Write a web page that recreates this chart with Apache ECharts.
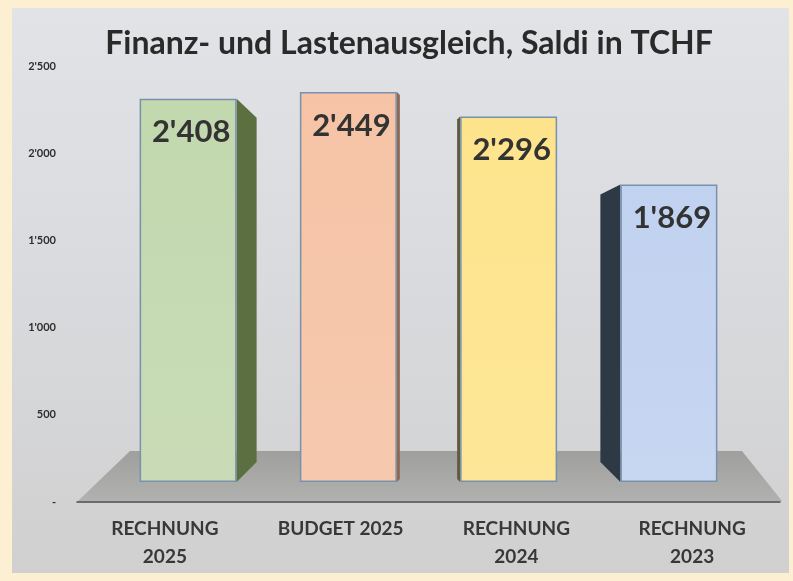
<!DOCTYPE html>
<html>
<head>
<meta charset="utf-8">
<script src="https://cdn.jsdelivr.net/npm/echarts@6/dist/echarts.min.js"></script>
<style>
  html, body { margin: 0; padding: 0; background: #fcefd2; }
  #main { width: 793px; height: 581px; }
</style>
</head>
<body>
<div id="main"></div>
<script>
// Werte aus der Grafik
var categories = ['RECHNUNG 2025', 'BUDGET 2025', 'RECHNUNG 2024', 'RECHNUNG 2023'];
var values = [2408, 2449, 2296, 1869];
var yTicks = [0, 500, 1000, 1500, 2000, 2500];

// Aussehen (keine Daten)
var frontColors = ['#c2d8ae', '#f6c3a6', '#fde48c', '#c1d2f0'];
var sideColors = ['#5b6f40', '#8e6a55', '#5f5a40', '#2d3945'];
var sideDepth = [20, 3, -3, -20];   // seitliche Tiefe der 3D-Flaeche
var sideTopDrop = [19, 3, 3, 10];
var sideBottomRise = [20, 3, 3, 20];
var barW = 97;

function fmt(v) {
    var s = String(v);
    return s.length > 3 ? s.slice(0, s.length - 3) + "'" + s.slice(-3) : s;
}

var myChart = echarts.init(document.getElementById('main'));

var option = {
    backgroundColor: '#fcefd2',
    animation: false,
    title: {
        text: 'Finanz- und Lastenausgleich, Saldi in TCHF',
        left: 404,
        textAlign: 'center',
        top: 23,
        textStyle: { fontFamily: 'Lato', fontWeight: 'bold', fontSize: 32, color: '#2a2a2a' }
    },
    graphic: [
        {
            type: 'rect', z: -10,
            shape: { x: 12, y: 8, width: 777, height: 565 },
            style: {
                fill: new echarts.graphic.LinearGradient(0, 0, 0, 1, [
                    { offset: 0, color: '#e2e3e6' },
                    { offset: 0.5, color: '#d9dadd' },
                    { offset: 1, color: '#d0d0d0' }
                ])
            }
        },
        {
            // Boden
            type: 'polygon', z: -5,
            shape: { points: [[130, 451], [742, 451], [782, 501], [78, 501]] },
            style: {
                fill: new echarts.graphic.LinearGradient(0, 0, 0, 1, [
                    { offset: 0, color: '#9f9f9d' },
                    { offset: 1, color: '#b1b1af' }
                ])
            }
        }
    ],
    grid: [
        { left: 77, right: 13, top: 66, bottom: 79 },
        { left: 108, right: 44, top: 84, bottom: 99 }
    ],
    xAxis: [
        {
            type: 'category', gridIndex: 0, data: categories,
            axisLine: { lineStyle: { color: '#4a4a4a', width: 1.5 } },
            axisTick: { show: false },
            axisLabel: {
                margin: 13, lineHeight: 28,
                fontFamily: 'Lato', fontWeight: 'bold', fontSize: 19, color: '#383838',
                formatter: function (v) { return v.replace('RECHNUNG ', 'RECHNUNG\n'); }
            }
        },
        { type: 'category', gridIndex: 1, data: categories, show: false }
    ],
    yAxis: [
        {
            type: 'value', gridIndex: 0, min: yTicks[0], max: yTicks[yTicks.length - 1], interval: 500,
            axisLine: { show: false }, axisTick: { show: false }, splitLine: { show: false },
            axisLabel: {
                margin: 21, fontFamily: 'Lato', fontWeight: 'bold', fontSize: 11, color: '#2e2e2e',
                formatter: function (v) { return v === 0 ? '-' : fmt(v); }
            }
        },
        { type: 'value', gridIndex: 1, min: 0, max: 2500, show: false }
    ],
    series: [
        {
            type: 'custom', xAxisIndex: 1, yAxisIndex: 1, z: 1,
            data: values.map(function (v, i) { return [i, v]; }),
            renderItem: function (params, api) {
                var i = api.value(0);
                var top = api.coord([i, api.value(1)]);
                var base = api.coord([i, 0]);
                var d = sideDepth[i];
                var fx = top[0] + (d > 0 ? barW / 2 : -barW / 2);
                return {
                    type: 'polygon',
                    shape: { points: [
                        [fx, top[1]], [fx + d, top[1] + sideTopDrop[i]],
                        [fx + d, base[1] - sideBottomRise[i]], [fx, base[1]]
                    ] },
                    style: { fill: sideColors[i] }
                };
            }
        },
        {
            type: 'bar', xAxisIndex: 1, yAxisIndex: 1, z: 2,
            barWidth: barW,
            data: values.map(function (v, i) {
                return {
                    value: v,
                    itemStyle: {
                        color: new echarts.graphic.LinearGradient(0, 0, 0, 1, [
                            { offset: 0, color: frontColors[i] },
                            { offset: 1, color: echarts.color.lift(frontColors[i], 0.1) }
                        ])
                    }
                };
            }),
            itemStyle: { borderColor: '#7891ad', borderWidth: 1.5 },
            label: {
                show: true, position: 'insideTop', distance: 18, offset: [3, 0],
                fontFamily: 'Lato', fontWeight: 'bold', fontSize: 31, color: '#333333',
                formatter: function (p) { return fmt(p.value); }
            }
        }
    ]
};

myChart.setOption(option);
</script>
</body>
</html>
